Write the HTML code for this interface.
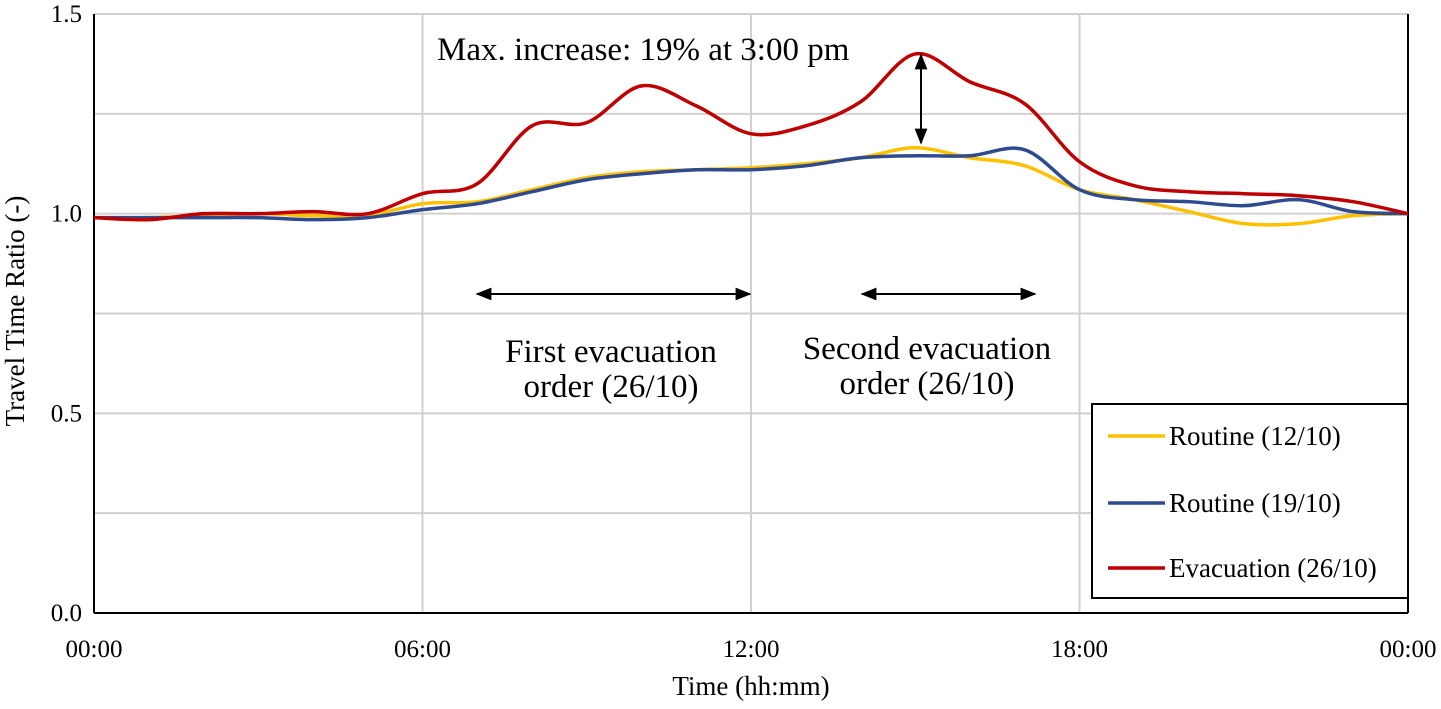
<!DOCTYPE html>
<html><head><meta charset="utf-8"><style>
body{margin:0;background:#fff}
svg text{font-family:"Liberation Serif",serif;fill:#000}
</style></head><body>
<svg id="c" width="1441" height="704"></svg>
<script>
const hours=[0,1,2,3,4,5,6,7,8,9,10,11,12,13,14,15,16,17,18,19,20,21,22,23,24];
const routine12=[0.99,0.99,0.995,1.0,0.995,0.995,1.025,1.03,1.06,1.09,1.105,1.11,1.115,1.125,1.14,1.165,1.14,1.12,1.06,1.035,1.005,0.975,0.975,0.995,1.0];
const routine19=[0.99,0.99,0.99,0.99,0.985,0.99,1.01,1.025,1.055,1.085,1.1,1.11,1.11,1.12,1.14,1.145,1.145,1.16,1.06,1.035,1.03,1.02,1.035,1.005,1.0];
const evac26=[0.99,0.985,1.0,1.0,1.005,1.0,1.05,1.075,1.22,1.228,1.32,1.27,1.2,1.22,1.28,1.4,1.33,1.275,1.13,1.07,1.055,1.05,1.045,1.03,1.0];
const yTicks=[0,0.5,1.0,1.5];
const yGrid=[0.25,0.5,0.75,1.0,1.25,1.5];
const xTickHours=[0,6,12,18,24];
const xTickLabels=["00:00","06:00","12:00","18:00","00:00"];
const X0=94,X1=1408,Y0=613,Y1=14;
const xs=h=>X0+(X1-X0)*h/24, ys=v=>Y0-(Y0-Y1)*v/1.5;
const svg=document.getElementById('c');const NS="http://www.w3.org/2000/svg";
function el(t,a,txt){const e=document.createElementNS(NS,t);for(const k in a)e.setAttribute(k,a[k]);if(txt!==undefined)e.textContent=txt;svg.appendChild(e);return e;}
const defs=document.createElementNS(NS,'defs');defs.innerHTML='<marker id="ah" viewBox="0 0 10 10" refX="9" refY="5" markerWidth="8" markerHeight="8" orient="auto-start-reverse"><path d="M0,1 L10,5 L0,9 z" fill="#000"/></marker>';svg.appendChild(defs);
yGrid.forEach(v=>{const g=el('line',{x1:X0,x2:X1,y1:ys(v),y2:ys(v),stroke:'#d0d0d0','stroke-width':2});

});
[6,12,18].forEach(h=>{const g=el('line',{x1:xs(h),x2:xs(h),y1:Y1,y2:Y0,stroke:'#d0d0d0','stroke-width':2});

});
let a=el('line',{x1:X0,x2:X0,y1:Y1,y2:Y0,stroke:'#000','stroke-width':2});


a=el('line',{x1:X1,x2:X1,y1:Y1,y2:Y0,stroke:'#000','stroke-width':2});


a=el('line',{x1:X0,x2:X1,y1:Y0,y2:Y0,stroke:'#000','stroke-width':2});


yTicks.forEach(v=>{const t=el('text',{x:X0-12,y:ys(v)+8,'text-anchor':'end','font-size':25},v.toFixed(1));

});
xTickHours.forEach((h,i)=>{const t=el('text',{x:xs(h),y:657,'text-anchor':'middle','font-size':25},xTickLabels[i]);

});
let t=el('text',{x:751,y:695,'text-anchor':'middle','font-size':27},'Time (hh:mm)');


t=el('text',{x:0,y:0,'text-anchor':'middle','font-size':27,transform:'translate(24,311) rotate(-90)'},'Travel Time Ratio (-)');


function path(vals){const p=hours.map((h,i)=>[xs(h),ys(vals[i])]);let d='M'+p[0][0]+','+p[0][1];
for(let i=0;i<p.length-1;i++){const p0=p[Math.max(0,i-1)],p1=p[i],p2=p[i+1],p3=p[Math.min(p.length-1,i+2)];
d+=' C'+(p1[0]+(p2[0]-p0[0])/6)+','+(p1[1]+(p2[1]-p0[1])/6)+' '+(p2[0]-(p3[0]-p1[0])/6)+','+(p2[1]-(p3[1]-p1[1])/6)+' '+p2[0]+','+p2[1];}return d;}
const series=[[routine12,'#ffc000','line-routine-12-10'],[routine19,'#2f4b8f','line-routine-19-10'],[evac26,'#c00000','line-evacuation-26-10']];
series.forEach(s=>{const p=el('path',{d:path(s[0]),fill:'none',stroke:s[1],'stroke-width':3.5});

});
let ar=el('line',{x1:477,x2:750,y1:294,y2:294,stroke:'#000','stroke-width':2,'marker-start':'url(#ah)','marker-end':'url(#ah)'});


ar=el('line',{x1:862,x2:1035,y1:294,y2:294,stroke:'#000','stroke-width':2,'marker-start':'url(#ah)','marker-end':'url(#ah)'});


ar=el('line',{x1:921,x2:921,y1:55,y2:143,stroke:'#000','stroke-width':2,'marker-start':'url(#ah)','marker-end':'url(#ah)'});


[[437,60,'start','Max. increase: 19% at 3:00 pm','max-increase-label'],[611,362,'middle','First evacuation','first-order-label'],[611,397,'middle','order (26/10)','first-order-label-2'],[927,359,'middle','Second evacuation','second-order-label'],[927,394,'middle','order (26/10)','second-order-label-2']].forEach(q=>{
const tt=el('text',{x:q[0],y:q[1],'text-anchor':q[2],'font-size':33},q[3]);

});
const lg=el('rect',{x:1092,y:404,width:316,height:194,fill:'#fff',stroke:'#000','stroke-width':2});


[['Routine (12/10)','#ffc000',436],['Routine (19/10)','#2f4b8f',503],['Evacuation (26/10)','#c00000',568]].forEach(q=>{
const l=el('line',{x1:1108,x2:1165,y1:q[2],y2:q[2],stroke:q[1],'stroke-width':3.5});


const tx=el('text',{x:1169,y:q[2]+9,'font-size':27},q[0]);

});
</script></body></html>
